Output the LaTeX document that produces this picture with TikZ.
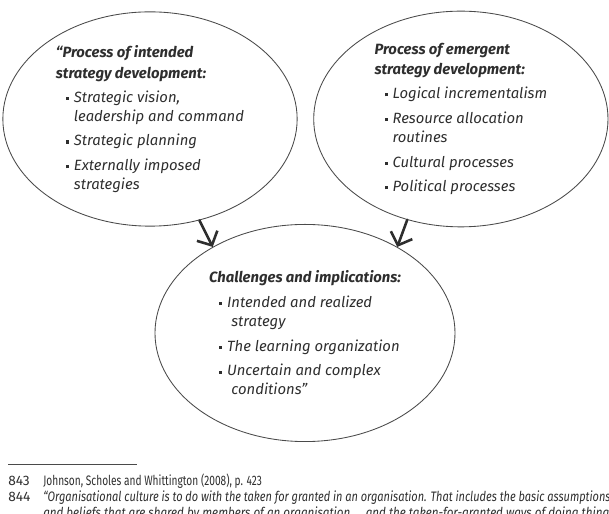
\documentclass[tikz,border=0pt]{standalone}
\usepackage{fontspec}
\setmainfont{Fira Sans}
\usepackage{graphicx}
\usetikzlibrary{arrows.meta,positioning,shapes.geometric}
\definecolor{inkgray}{HTML}{2E2E2E}
\definecolor{linegray}{HTML}{4A4A4A}
\newcommand{\bul}{\makebox[5.6pt][l]{\raisebox{0.3ex}{\rule{2.2pt}{2.2pt}}}}
\newcommand{\ind}{\hspace*{7pt}}
\newcommand{\hang}{\hspace*{12.6pt}}

\begin{document}
\begin{tikzpicture}[
  x=0.7pt, y=-0.7pt,
  font=\fontsize{10.4}{13.3}\selectfont\itshape, text=inkgray,
  bubble/.style={ellipse, draw=linegray, line width=0.6pt, inner sep=0pt,
                 align=left, minimum width=206pt, minimum height=150pt},
  flow/.style={-{Straight Barb[length=7.5pt,width=16pt]}, line width=1.8pt,
               draw=inkgray, line cap=round, line join=round},
  fnote/.style={anchor=base west, inner sep=0pt, font=\fontsize{9.6}{11}\selectfont}
]
\useasboundingbox (0,0) rectangle (609,514);
\node[bubble] (intended) at (150,119)
  {\bfseries “Process of intended\\[1.4pt]
   \bfseries strategy development:\\[3.5pt]
   \ind\bul Strategic vision,\\
   \hang leadership and command\\[4pt]
   \ind\bul Strategic planning\\[4pt]
   \ind\bul Externally imposed\\
   \hang strategies};
\node[bubble, minimum height=151pt, right=11pt of intended] (emergent)
  {\bfseries Process of emergent\\[1pt]
   \bfseries strategy development:\\[3.5pt]
   \ind\bul Logical incrementalism\\[4pt]
   \ind\bul Resource allocation\\
   \hang routines\\[4pt]
   \ind\bul Cultural processes\\[4pt]
   \ind\bul Political processes};
\node[bubble, minimum width=210pt, minimum height=152pt] (challenges) at (305,333)
  {\bfseries Challenges and implications:\\[4pt]
   \ind\bul Intended and realized\\
   \hang\hspace*{3pt}strategy\\[4pt]
   \ind\bul The learning organization\\[4pt]
   \ind\bul Uncertain and complex\\
   \hang\hspace*{3pt}conditions”};
\draw[flow] (intended.-64) -- (challenges.137);
\draw[flow] (emergent.-118) -- (challenges.43);
\draw[linegray, line width=0.5pt] (8,464) -- (137,464);
\node[fnote] (fn843num) at (8,486) {\upshape 843};
\node[fnote] (fn843) at (43,486) {\upshape\resizebox{153pt}{\height}{Johnson, Scholes and Whittington (2008), p. 423}};
\node[fnote] (fn844num) at (8,502) {\upshape 844};
\node[fnote] (fn844) at (43,502) {\itshape\resizebox{397pt}{\height}{“Organisational culture is to do with the taken for granted in an organisation. That includes the basic assumptions}};
\node[fnote] (fn844b) at (43,518) {\itshape\resizebox{400pt}{\height}{and beliefs that are shared by members of an organisation ... and the taken-for-granted ways of doing things}};
\end{tikzpicture}
\end{document}
